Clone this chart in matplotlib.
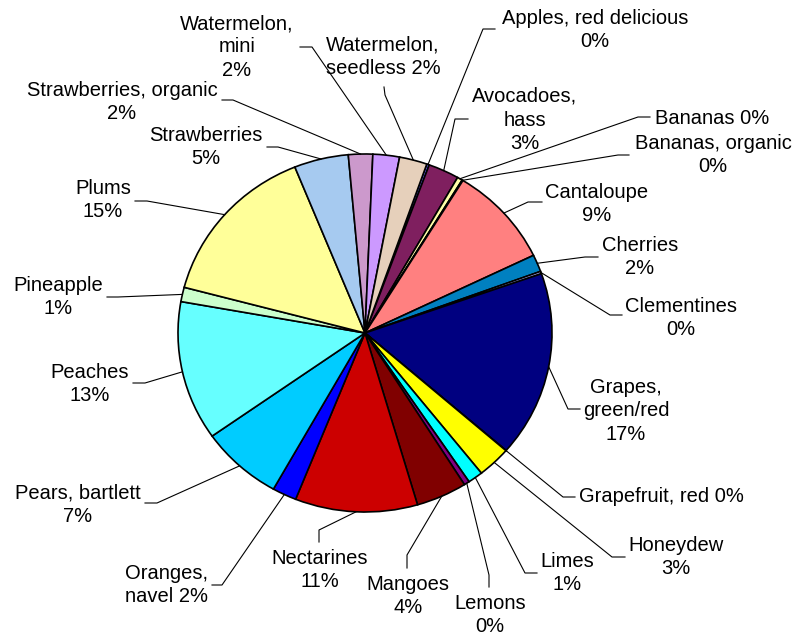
import numpy as np
import matplotlib.pyplot as plt

# slices, clockwise from the first one
fruits = ["Apples, red delicious", "Avocadoes,\nhass", "Bananas", "Bananas, organic",
          "Cantaloupe", "Cherries", "Clementines", "Grapes,\ngreen/red", "Grapefruit, red",
          "Honeydew", "Limes", "Lemons", "Mangoes", "Nectarines", "Oranges,\nnavel",
          "Pears, bartlett", "Peaches", "Pineapple", "Plums", "Strawberries",
          "Strawberries, organic", "Watermelon,\nmini", "Watermelon,\nseedless"]
shares = [0.22, 2.67, 0.45, 0.08, 9.1, 1.55, 0.22, 16.8, 0.02, 2.9, 1.3, 0.47, 4.4,
          10.6, 2.1, 7.1, 12.6, 1.3, 14.8, 4.7, 2.1, 2.3, 2.4]
# separator between name and percent
seps = ["\n", "\n", " ", "\n", "\n", "\n", "\n", "\n", " ", "\n", "\n", "\n", "\n",
        "\n", " ", "\n", "\n", "\n", "\n", "\n", "\n", "\n", " "]
colors = ['#6666ff', '#7f1f5f', '#ffffa8', '#ccffff', '#ff8080', '#0080c0', '#b0b0ff',
          '#000080', '#ff00ff', '#ffff00', '#00ffff', '#800080', '#800000', '#cc0000',
          '#0000ff', '#00ccff', '#66ffff', '#ccffcc', '#ffff99', '#a6caf0', '#cc99cc',
          '#cc99ff', '#e6d0bb']

# label layout, in pixels of the 795x639 picture
label_xy = [(595, 30), (525, 120), (712, 118), (713, 155), (597, 204), (640, 257),
            (681, 318), (626, 411), (661, 497), (676, 557), (567, 573), (490, 615),
            (408, 596), (320, 570), (166, 585), (78, 505), (90, 384), (58, 297),
            (103, 200), (206, 147), (122, 102), (237, 47), (383, 57)]
leader_bend = [(483, 29), (455, 119), (638, 117), (618, 155), (528, 202), (585, 257),
               (610, 315), (568, 409), (563, 497), (612, 557), (525, 573), (489, 575),
               (407, 555), (319, 530), (222, 585), (157, 503), (145, 383), (118, 297),
               (147, 201), (278, 147), (233, 100), (312, 47), (385, 95)]
leader_end = [(495, 29), (468, 119), (650, 117), (629, 155), (542, 202), (598, 257),
              (622, 315), (580, 409), (575, 497), (625, 557), (537, 573), (489, 587),
              (407, 568), (319, 542), (212, 585), (145, 503), (133, 383), (107, 297),
              (135, 201), (267, 147), (222, 100), (300, 47), (384, 87)]

CX, CY, RX, RY = 365, 333, 187, 179


def px(x, y):
    return (x - CX) / RX, (CY - y) / RY


fig = plt.figure(figsize=(7.95, 6.39), dpi=100)
ax = fig.add_axes([0, 0, 1, 1])
wedges, _ = ax.pie(shares, colors=colors, startangle=70.7, counterclock=False,
                   wedgeprops=dict(edgecolor='black', linewidth=1.2))
ax.set_aspect('auto')
ax.set_xlim(px(0, 0)[0], px(795, 0)[0])
ax.set_ylim(px(0, 639)[1], px(0, 0)[1])

total = sum(shares)
for w, name, sep, v, xy, b, e in zip(wedges, fruits, seps, shares,
                                     label_xy, leader_bend, leader_end):
    mid = np.deg2rad((w.theta1 + w.theta2) / 2)
    bx, by = px(*b)
    ex, ey = px(*e)
    ax.plot([np.cos(mid), bx, ex], [np.sin(mid), by, ey], color='black', lw=0.8)
    ax.text(*px(*xy), f"{name}{sep}{v / total * 100:.0f}%", ha='center', va='center',
            fontsize=14.5, family='Liberation Sans', linespacing=1.3)

fig.savefig('out.png', dpi=100)
